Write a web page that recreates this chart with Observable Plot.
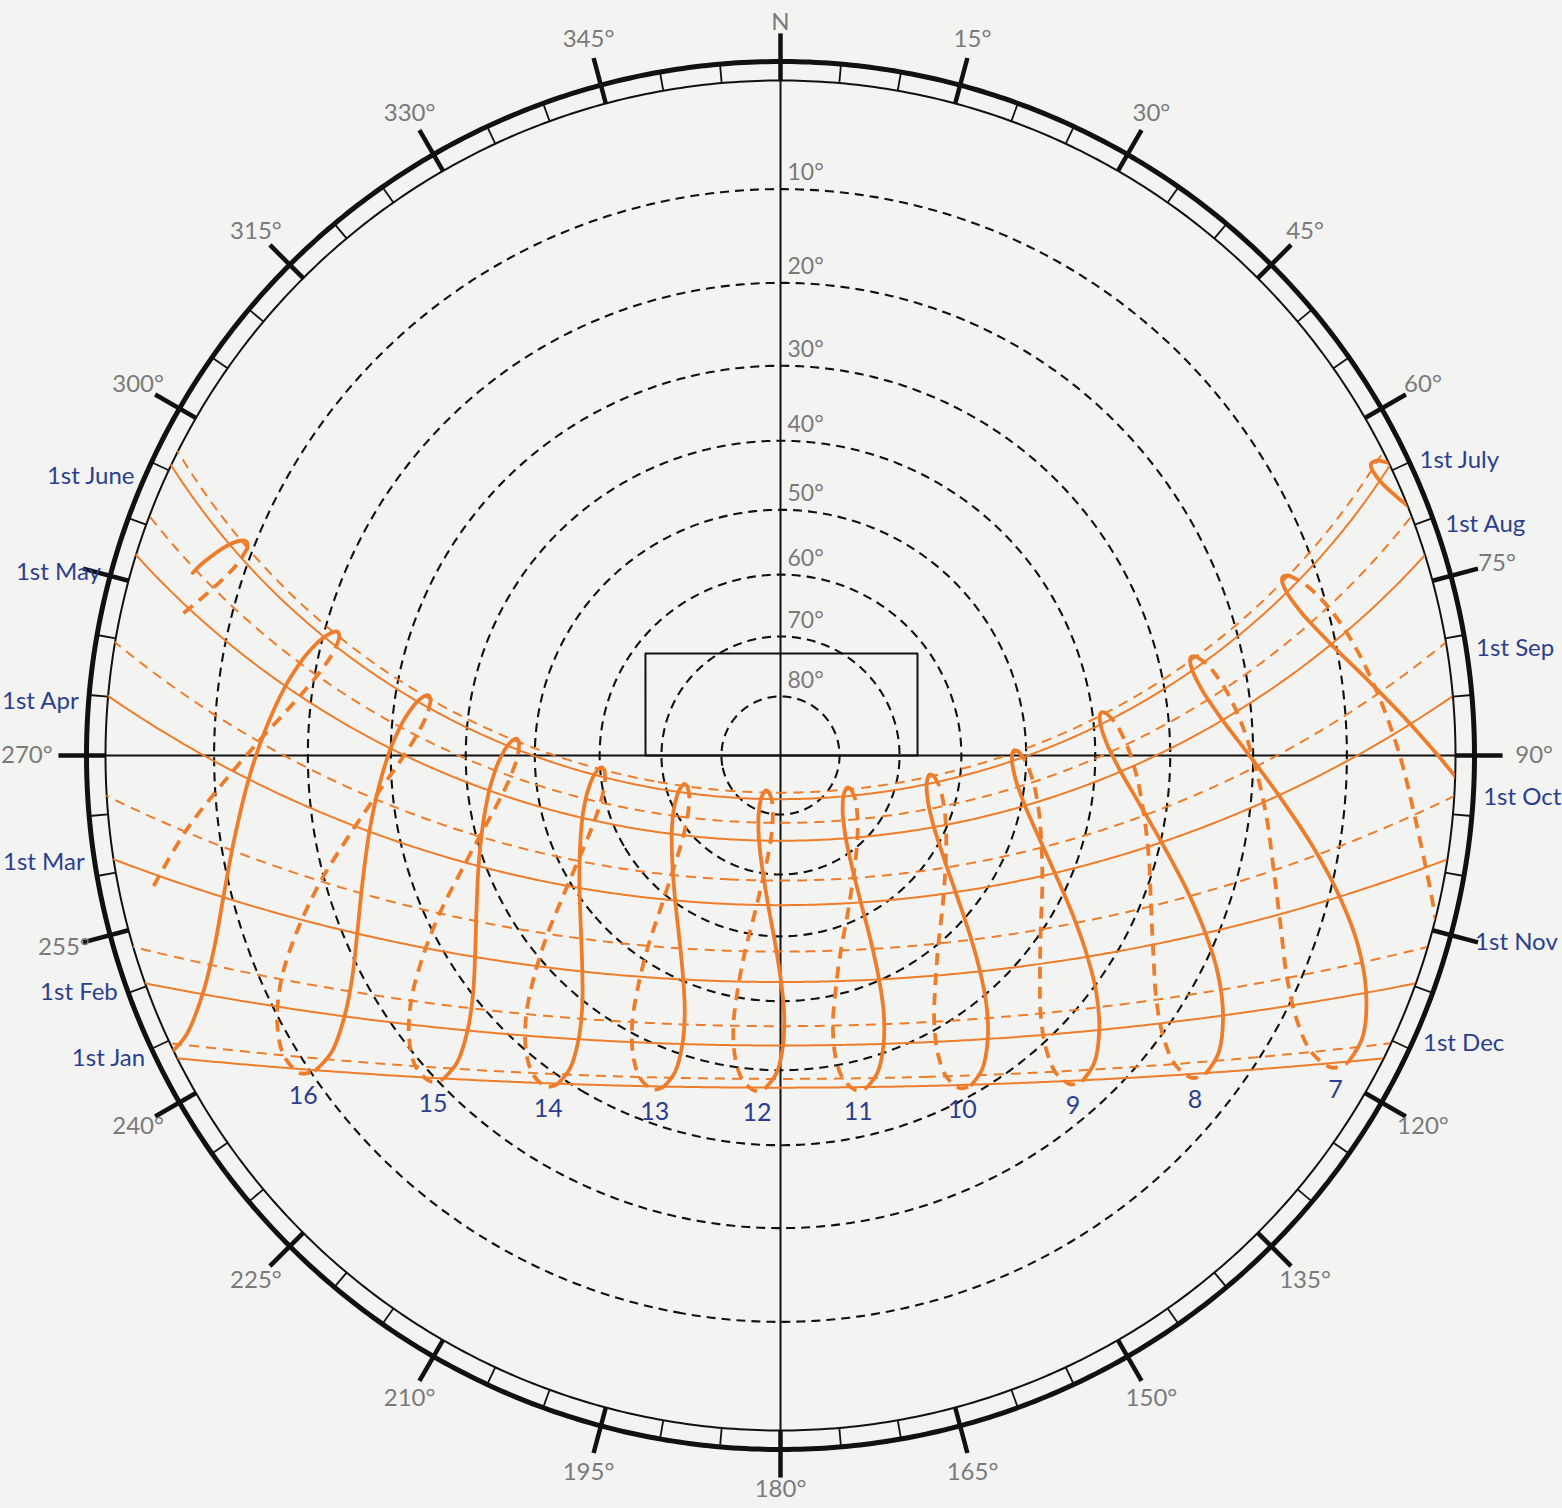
<!DOCTYPE html>
<html>
<head>
<meta charset="utf-8">
<script src="https://cdn.jsdelivr.net/npm/d3@7"></script>
<script src="https://cdn.jsdelivr.net/npm/@observablehq/plot@0.6"></script>
<style>
html, body { margin: 0; padding: 0; background: #f3f3f1; }
#chart { position: relative; width: 1562px; height: 1508px; }
#chart svg { position: absolute; left: 0; top: 0; max-width: none; }
</style>
</head>
<body>
<div id="chart"></div>
<script>
// ---------------- data ----------------
const latitude = 29.4;            // observer latitude, degrees N
const clockOffsetMinutes = 12;    // local mean time ahead of clock time

// dates along the year used for the hour (analemma) curves
const dateNames = ["Jan 1","Jan 16","Feb 1","Feb 16","Mar 1","Mar 16","Apr 1","Apr 16","May 1","May 10","May 16","Jun 1","Jun 16","Jun 21",
                   "Jul 1","Jul 16","Aug 1","Aug 16","Sep 1","Sep 16","Oct 1","Oct 16","Nov 1","Nov 16","Dec 1","Dec 16","Dec 21","Dec 31"];
const declination = [-23.0,-21.0,-17.1,-12.5,-7.7,-2.1,4.4,10.0,15.0,17.6,19.1,22.0,23.3,23.44,
                     23.1,21.4,18.0,13.8,8.4,2.6,-3.0,-8.9,-14.3,-18.7,-21.8,-23.3,-23.44,-23.1];
const equationOfTime = [-3.3,-9.6,-13.5,-14.2,-12.4,-8.9,-4.0,0.0,2.9,3.6,3.7,2.2,-0.4,-1.6,
                        -3.8,-6.0,-6.4,-4.4,-0.1,5.0,10.2,14.2,16.4,15.2,11.0,4.5,2.0,-2.9];

// date lines (1st of each month)
const solidMonths = ["Jan 1","Feb 1","Mar 1","Apr 1","May 1","Jun 1"];
const solidMonthLabels = ["1st Jan","1st Feb","1st Mar","1st Apr","1st May","1st June"];
const solidMonthLabelAz = [244.5, 250.3, 261.3, 274.4, 285.1, 293.4];
const dashedMonths = ["Jul 1","Aug 1","Sep 1","Oct 1","Nov 1","Dec 1"];
const dashedMonthLabels = ["1st July","1st Aug","1st Sep","1st Oct","1st Nov","1st Dec"];
const dashedMonthLabelAz = [65.2, 70.8, 81.2, 93.4, 105.4, 114.1];
const labelsBesideTick = ["1st Nov"];

// clock hours
const hours = [5,6,7,8,9,10,11,12,13,14,15,16,17,18];
const hourSpanStart = {17: "Jan 1", 18: "May 10"};
const hourSpanEnd = {17: "Oct 16", 18: "Aug 16"};
const labelledHours = [7,8,9,10,11,12,13,14,15,16];

// grid
const altitudeRings = [10,20,30,40,50,60,70,80];
const azimuthLabelAz = [0,15,30,45,60,75,90,120,135,150,165,180,195,210,225,240,255,270,300,315,330,345];
const azimuthLabels = ["N","15°","30°","45°","60°","75°","90°","120°","135°","150°","165°","180°","195°","210°","225°","240°","255°","270°","300°","315°","330°","345°"];
const minorTickAz = d3.range(0, 360, 5);
const majorTickAz = d3.range(0, 360, 15);
const boxCorners = [{az:270,alt:67.38},{az:307.07,alt:61.85},{az:53.33,alt:61.6},{az:90,alt:67.05},{az:270,alt:67.38}];

// ---------------- styling ----------------
const W = 1562, H = 1508, R = 675, CX = 780, CY = 755;
const ORANGE = "#ee7d2b", BLUE = "#2c3f8e", GRAY = "#7a7a7a", INK = "#111";
const FONT = "Lato, 'Open Sans', sans-serif";
const ringOuterAlt = -1.59, majorTickAlt = -3.86, azLabelAlt = -5.4, sideLabelAlt = -6.3, poleLabelAlt = -4.75, dateLabelAlt = -2.4;
const isSide = az => az === 90 || az === 270;
const isPole = az => az === 0 || az === 180;

// ---------------- helpers ----------------
const lonOf = az => 180 - az;
const circleLine = (center, radius) => ({type: "LineString",
  coordinates: d3.geoCircle().center(center).radius(radius).precision(0.5)().coordinates[0]});
const dateIndex = Object.fromEntries(dateNames.map((d, i) => [d, i]));
const midYear = dateIndex["Jul 1"];
function sunPoint(hour, i) {
  const hourAngle = 15 * (hour - 12) + (clockOffsetMinutes + equationOfTime[i]) / 4;
  return {hour, date: dateNames[i], lon: -hourAngle, lat: declination[i]};
}
const solidPts = [], dashedPts = [];
for (const h of hours) {
  const a = dateIndex[hourSpanStart[h] ?? "Jan 1"], b = dateIndex[hourSpanEnd[h] ?? "Dec 31"];
  for (let i = a; i <= Math.min(b, midYear); i++) solidPts.push(sunPoint(h, i));
  for (let i = Math.max(a, midYear); i <= b; i++) dashedPts.push(sunPoint(h, i));
}
const azLabelRows = azimuthLabelAz.map((az, i) => ({az, label: azimuthLabels[i]}));
const leftLabelRows = solidMonthLabels.map((label, i) => ({label, az: solidMonthLabelAz[i]}));
const rightLabelRows = dashedMonthLabels.map((label, i) => ({label, az: dashedMonthLabelAz[i]}));
const dateTextStyle = {x: d => lonOf(d.az), y: () => dateLabelAlt, text: "label", fill: BLUE, fontSize: 24, fontFamily: FONT};
const azTextStyle = {x: d => lonOf(d.az), text: "label", fill: GRAY, fontSize: 24, fontFamily: FONT};

// ---------------- layer A: horizon frame grid ----------------
const horizonProjection = d3.geoStereographic().rotate([0, -90]).scale(R).translate([CX, CY]);
const gridPlot = Plot.plot({
  width: W, height: H,
  projection: horizonProjection,
  style: {background: "#f3f3f1", fontFamily: FONT},
  marks: [
    Plot.geo(altitudeRings.map(a => circleLine([0, 90], 90 - a)), {stroke: INK, strokeWidth: 2.1, strokeDasharray: "9,6", fill: "none", strokeLinecap: "butt"}),
    Plot.line([{az: 0, alt: 0}, {az: 0, alt: 90}, {az: 180, alt: 0}], {x: d => lonOf(d.az), y: "alt", stroke: INK, strokeWidth: 2}),
    Plot.line([{az: 90, alt: 0}, {az: 90, alt: 90}, {az: 270, alt: 0}], {x: d => lonOf(d.az), y: "alt", stroke: INK, strokeWidth: 2}),
    Plot.line(boxCorners, {x: d => lonOf(d.az), y: "alt", curve: "linear", stroke: INK, strokeWidth: 2}),
    Plot.geo([circleLine([0, 90], 90)], {stroke: INK, strokeWidth: 2, fill: "none"}),
    Plot.geo([circleLine([0, 90], 90 - ringOuterAlt)], {stroke: INK, strokeWidth: 5, fill: "none"}),
    Plot.link(minorTickAz, {x1: lonOf, y1: () => 0, x2: lonOf, y2: () => ringOuterAlt, stroke: INK, strokeWidth: 1.8}),
    Plot.link(majorTickAz, {x1: lonOf, y1: () => 0, x2: lonOf, y2: () => majorTickAlt, stroke: INK, strokeWidth: 4.5, strokeLinecap: "butt"}),
    Plot.text(azLabelRows.filter(d => !isSide(d.az) && !isPole(d.az)), {...azTextStyle, y: () => azLabelAlt}),
    Plot.text(azLabelRows.filter(d => isSide(d.az)), {...azTextStyle, y: () => sideLabelAlt}),
    Plot.text(azLabelRows.filter(d => isPole(d.az)), {...azTextStyle, y: () => poleLabelAlt}),
    Plot.text(altitudeRings, {x: () => lonOf(0), y: a => a, text: a => `${a}°`, dx: 7, dy: -16, textAnchor: "start", fill: GRAY, fontSize: 23, fontFamily: FONT}),
    Plot.text(leftLabelRows, {...dateTextStyle, textAnchor: "end"}),
    Plot.text(rightLabelRows.filter(d => !labelsBesideTick.includes(d.label)), {...dateTextStyle, textAnchor: "start"}),
    Plot.text(rightLabelRows.filter(d => labelsBesideTick.includes(d.label)), {...dateTextStyle, textAnchor: "start", dx: 16})
  ]
});

// ---------------- layer B: sun paths (equatorial frame) ----------------
const skyProjection = d3.geoStereographic().rotate([0, -latitude]).scale(R).translate([CX, CY]);
const sunPlot = Plot.plot({
  width: W, height: H,
  projection: skyProjection,
  style: {background: "transparent", fontFamily: FONT},
  marks: [
    Plot.geo(solidMonths.map(d => circleLine([0, 90], 90 - declination[dateIndex[d]])), {stroke: ORANGE, strokeWidth: 2, fill: "none"}),
    Plot.geo(dashedMonths.map(d => circleLine([0, 90], 90 - declination[dateIndex[d]])), {stroke: ORANGE, strokeWidth: 2, strokeDasharray: "10,7", fill: "none", strokeLinecap: "butt"}),
    Plot.line(solidPts, {x: "lon", y: "lat", z: "hour", curve: "catmull-rom", stroke: ORANGE, strokeWidth: 3.8}),
    Plot.line(dashedPts, {x: "lon", y: "lat", z: "hour", curve: "catmull-rom", stroke: ORANGE, strokeWidth: 3.8, strokeDasharray: "12,8", strokeLinecap: "butt"}),
    Plot.text(labelledHours, {x: h => sunPoint(h, dateIndex["Dec 21"]).lon, y: h => sunPoint(h, dateIndex["Dec 21"]).lat, dy: 22, text: h => String(h), fill: BLUE, fontSize: 25, fontFamily: FONT})
  ]
});

// clip the sun layer to the horizon circle
const ns = "http://www.w3.org/2000/svg";
const horizonPath = d3.geoPath(d3.geoStereographic().scale(R).translate([CX, CY]).clipAngle(90))({type: "Sphere"});
const defs = document.createElementNS(ns, "defs");
const cp = document.createElementNS(ns, "clipPath");
cp.setAttribute("id", "horizon-clip");
const cpPath = document.createElementNS(ns, "path");
cpPath.setAttribute("d", horizonPath);
cp.append(cpPath); defs.append(cp);
const clipG = document.createElementNS(ns, "g");
clipG.setAttribute("clip-path", "url(#horizon-clip)");
[...sunPlot.children].forEach(c => { if (c.tagName.toLowerCase() !== "style") clipG.append(c); });
sunPlot.append(defs, clipG);

const chart = document.getElementById("chart");
chart.append(gridPlot, sunPlot);
</script>
</body>
</html>
